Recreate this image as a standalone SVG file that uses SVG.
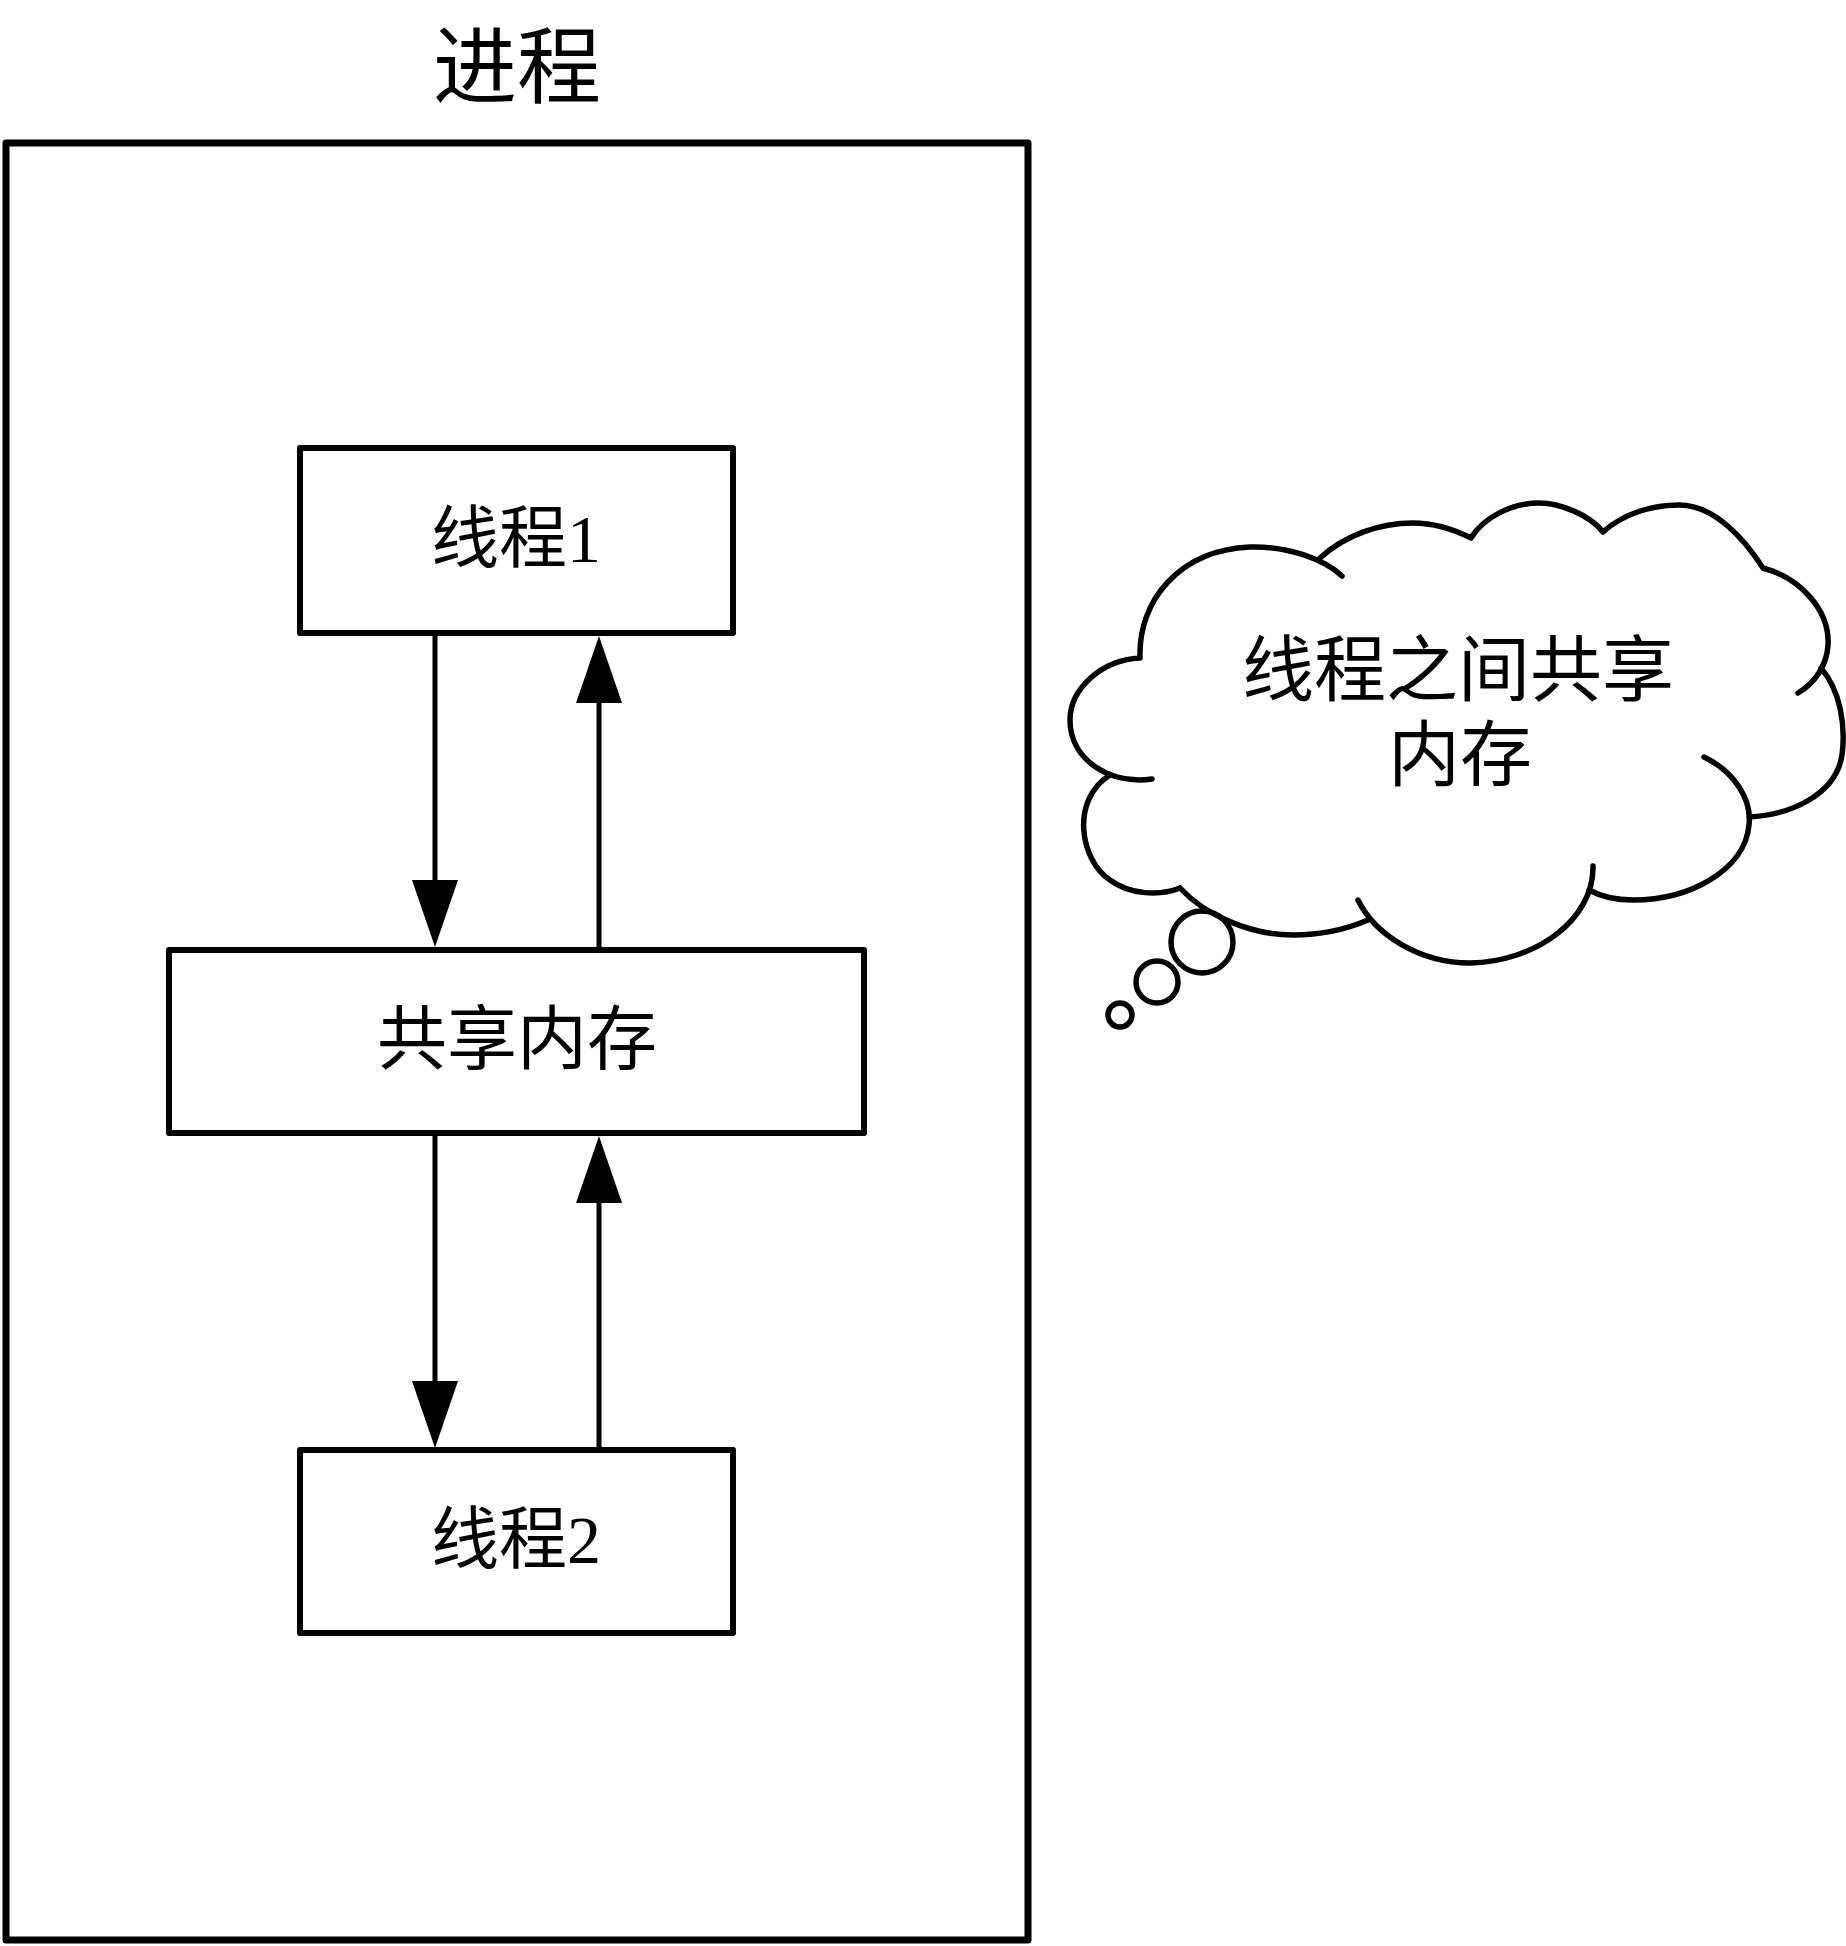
<svg xmlns="http://www.w3.org/2000/svg" width="1846" height="1946" viewBox="0 0 1846 1946">
<style>
.box{fill:none;stroke:#000;stroke-width:6;stroke-linejoin:round}
.outer{fill:none;stroke:#000;stroke-width:7;stroke-linejoin:round}
.lbl{font-family:"Liberation Serif","Noto Sans CJK SC",serif;fill:#000;text-anchor:middle}
.edge{stroke:#000;stroke-width:5;fill:none}
.cloud{fill:none;stroke:#000;stroke-width:5.5;stroke-linecap:round}
</style>
<defs>
<marker id="arr" markerUnits="userSpaceOnUse" viewBox="0 0 67 46" markerWidth="67" markerHeight="46" refX="0" refY="23" orient="auto">
<path d="M0,0 L67,23 L0,46 z" fill="#000"/>
</marker>
</defs>
<rect width="1846" height="1946" fill="#fff"/>
<g id="process">
<text class="lbl" x="517" y="97" font-size="84">进程</text>
<rect class="outer" x="6" y="143" width="1022" height="1797"/>
</g>
<g id="thread1">
<rect class="box" x="300" y="448" width="433" height="185"/>
<text class="lbl" x="516" y="562" font-size="68">线程1</text>
</g>
<g id="shared-memory">
<rect class="box" x="169" y="950" width="695" height="183"/>
<text class="lbl" x="517" y="1064" font-size="70">共享内存</text>
</g>
<g id="thread2">
<rect class="box" x="300" y="1450" width="433" height="183"/>
<text class="lbl" x="516" y="1563" font-size="68">线程2</text>
</g>
<g id="connectors">
<line class="edge" x1="435" y1="633" x2="435" y2="880" marker-end="url(#arr)"/>
<line class="edge" x1="599" y1="950" x2="599" y2="703" marker-end="url(#arr)"/>
<line class="edge" x1="435" y1="1133" x2="435" y2="1381" marker-end="url(#arr)"/>
<line class="edge" x1="599" y1="1450" x2="599" y2="1203" marker-end="url(#arr)"/>
</g>
<g id="cloud-callout">
<path class="cloud" d="M1140,658 C1138,600 1180,550 1250,547 C1290,546 1325,560 1342,576
M1320,558 C1345,535 1380,523 1413,523 C1435,523 1455,530 1471,538
M1471,538 C1485,515 1515,503 1539,503 C1560,503 1590,515 1603,532
M1603,532 C1625,512 1655,505 1679,505 C1715,505 1745,540 1763,568
M1763,568 C1800,578 1830,610 1828,645 C1827,665 1815,683 1798,693
M1821,668 C1840,690 1846,725 1842,755 C1836,795 1790,815 1749,817
M1704,757 C1735,772 1752,800 1749,825 C1745,870 1690,900 1633,900 C1615,900 1600,896 1589,890
M1593,866 C1594,920 1535,962 1470,963 C1420,963 1375,935 1358,900
M1368,920 C1340,932 1315,935 1293,935 C1250,935 1205,915 1180,888
M1180,888 C1160,896 1130,895 1110,880 C1080,860 1070,800 1110,775
M1140,658 C1100,660 1070,690 1070,720 C1070,760 1110,785 1152,779"/>
<circle class="cloud" cx="1202" cy="942" r="31"/>
<circle class="cloud" cx="1157" cy="982" r="21"/>
<circle class="cloud" cx="1120" cy="1015" r="12"/>
<text class="lbl" x="1458" y="695" font-size="72">线程之间共享</text>
<text class="lbl" x="1460" y="780" font-size="72">内存</text>
</g>
</svg>
